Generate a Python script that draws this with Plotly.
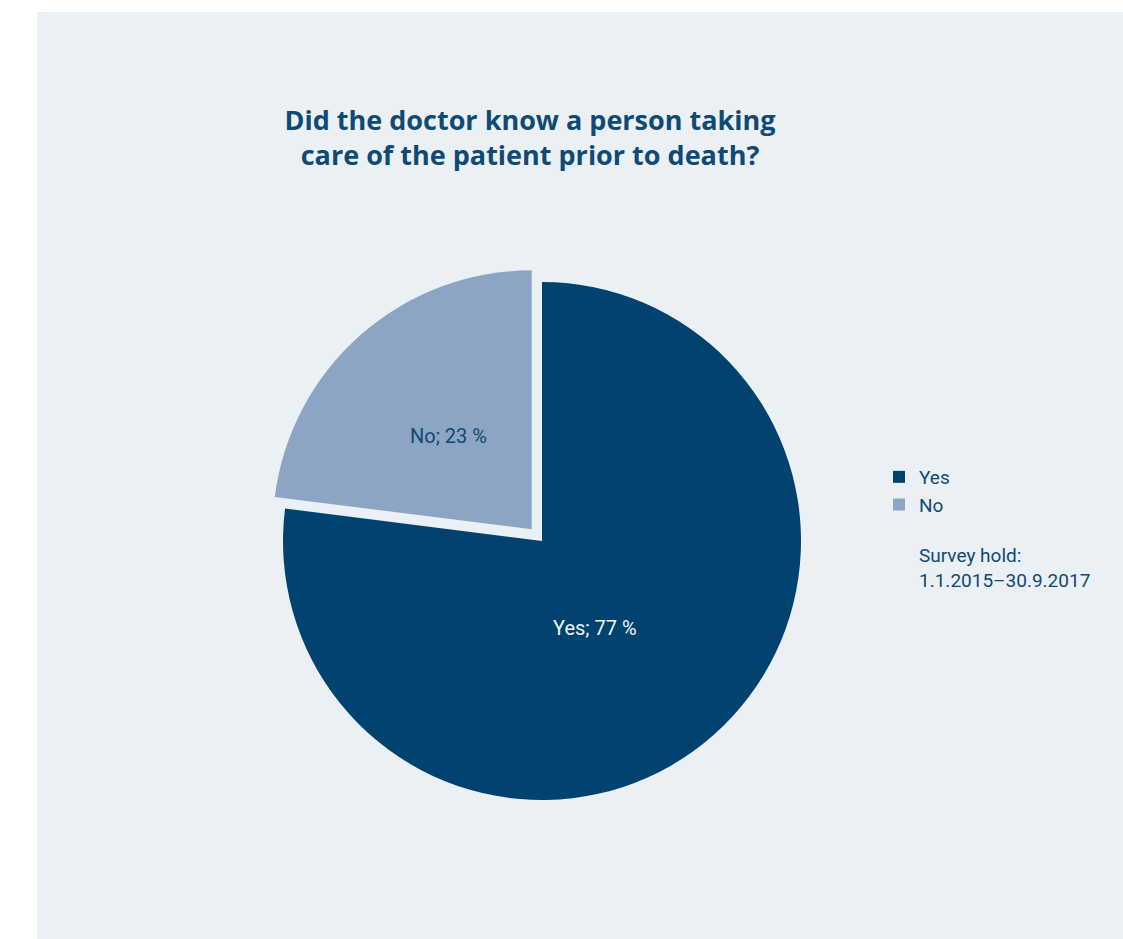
import plotly.graph_objects as go

labels = ["Yes", "No"]
values = [77, 23]
colors = ["#004370", "#8ca5c4"]
pulls = [0, 0.06]
label_colors = ["#f2f5f8", "#0f4a76"]

W, H = 1123, 939
TEXT = "#0f4a76"

# pie domain in pixels (center 542,541; r=259 with pull 0.06)
r = 259
cx, cy = 542, 541
half = r * (1 + max(pulls))
dom_x = [(cx - half) / W, (cx + half) / W]
dom_y = [1 - (cy + half) / H, 1 - (cy - half) / H]

# label anchor positions (pixels) for slice texts
label_pos = [(595, 628), (448, 436)]

fig = go.Figure(go.Pie(
    labels=labels,
    values=values,
    marker=dict(colors=colors, line=dict(width=0)),
    pull=pulls,
    sort=False,
    direction="clockwise",
    rotation=0,
    textinfo="none",
    hoverinfo="label+percent",
    domain=dict(x=dom_x, y=dom_y),
))

annotations = []
for lab, val, col, (px, py) in zip(labels, values, label_colors, label_pos):
    annotations.append(dict(
        text=f"{lab}; {val} %", xref="paper", yref="paper",
        x=px / W, y=1 - py / H, xanchor="center", yanchor="middle",
        showarrow=False, font=dict(family="Roboto", size=20, color=col),
    ))

annotations.append(dict(
    text="Survey hold:<br>1.1.2015–30.9.2017",
    xref="paper", yref="paper", x=917 / W, y=1 - 542 / H,
    xanchor="left", yanchor="top", align="left", showarrow=False,
    font=dict(family="Roboto", size=19, color=TEXT),
))

fig.update_layout(
    width=W, height=H,
    margin=dict(l=0, r=0, t=0, b=0),
    paper_bgcolor="#ffffff",
    font=dict(family="Roboto", color=TEXT),
    shapes=[dict(type="rect", xref="paper", yref="paper",
                 x0=37 / W, x1=1.0, y0=0, y1=1 - 12 / H,
                 fillcolor="#eaf0f3", line=dict(width=0), layer="below")],
    title=dict(
        text="Did the doctor know a person taking<br>care of the patient prior to death?",
        x=530 / W, xanchor="center", y=1 - 130 / H, yanchor="top",
        font=dict(family="Open Sans", size=27, color=TEXT, weight="bold"),
    ),
    legend=dict(
        x=879 / W, xanchor="left", y=1 - 458 / H, yanchor="top",
        font=dict(family="Roboto", size=19, color=TEXT),
        bgcolor="rgba(0,0,0,0)", tracegroupgap=0, itemwidth=30,
    ),
    annotations=annotations,
)

fig.write_html("out.html")
